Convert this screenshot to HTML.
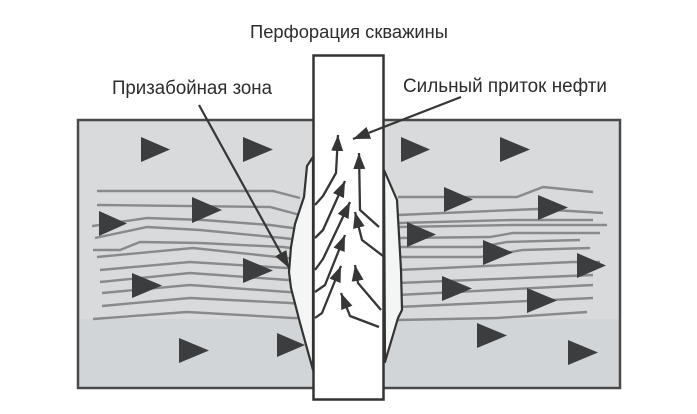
<!DOCTYPE html>
<html>
<head>
<meta charset="utf-8">
<style>
html,body{margin:0;padding:0;background:#fff;}
svg{display:block;}
text{font-family:"Liberation Sans","Noto Sans CJK SC",sans-serif;fill:#2c2c2c;}
</style>
</head>
<body>
<svg width="697" height="414" viewBox="0 0 697 414" xmlns="http://www.w3.org/2000/svg">
<defs>
<marker id="ah" viewBox="0 0 16 12" refX="16" refY="6" markerWidth="16" markerHeight="13" markerUnits="userSpaceOnUse" orient="auto">
<path d="M0,0 L16,6 L0,12 Z" fill="#363636"/>
</marker>
<marker id="ah2" viewBox="0 0 16 12" refX="16" refY="6" markerWidth="17" markerHeight="14" markerUnits="userSpaceOnUse" orient="auto">
<path d="M0,0 L16,6 L0,12 Z" fill="#363636"/>
</marker>
</defs>

<!-- labels -->
<text x="250" y="38" font-size="18" textLength="198" lengthAdjust="spacingAndGlyphs">Перфорация скважины</text>
<text x="112" y="94" font-size="19" textLength="160" lengthAdjust="spacingAndGlyphs">Призабойная зона</text>
<text x="403" y="92" font-size="19" textLength="204" lengthAdjust="spacingAndGlyphs">Сильный приток нефти</text>

<!-- formation box -->
<rect x="78" y="120" width="542" height="268" fill="#d8dadb"/>
<rect x="78" y="319" width="542" height="69" fill="#d1d5d7"/>

<!-- strata lines -->
<g fill="none" stroke="#888a8b" stroke-width="2.4">
<polyline points="97,191 273,191 300,198"/>
<polyline points="97,205 270,207 300,215"/>
<polyline points="92,226 147,218 203,220 270,225 300,229"/>
<polyline points="95,238 147,227 200,230 283,238 300,240"/>
<polyline points="93,250 120,250 140,242 200,243 283,247 300,249"/>
<polyline points="97,257 193,248 287,258 300,259"/>
<polyline points="100,270 190,262 287,268 300,269"/>
<polyline points="100,282 190,273 288,280 300,281"/>
<polyline points="102,293 190,285 288,292 300,293"/>
<polyline points="102,306 190,298 290,303 300,304"/>
<polyline points="93,319 187,312 293,318 300,318"/>

<polyline points="398,197 517,197 543,187 593,192"/>
<polyline points="398,215 537,209 603,213"/>
<polyline points="398,223 513,220 593,220"/>
<polyline points="398,227 513,225 607,225"/>
<polyline points="398,238 490,237 513,233 600,233"/>
<polyline points="398,247 480,247 507,242 580,240"/>
<polyline points="398,257 480,257 523,250 590,248"/>
<polyline points="398,270 573,262 600,262"/>
<polyline points="398,283 593,275"/>
<polyline points="398,295 593,285"/>
<polyline points="398,307 593,298"/>
<polyline points="398,320 497,318 587,312"/>
</g>

<!-- flow triangles -->
<g fill="#3b3d3e">
<path d="M141,137 L170,149.5 L141,162 Z"/>
<path d="M243,137 L273,149.5 L243,162 Z"/>
<path d="M192,197 L222,210 L192,223 Z"/>
<path d="M99,211 L127,223.5 L99,236 Z"/>
<path d="M243,258 L273,270.5 L243,283 Z"/>
<path d="M132,273 L162,285.5 L132,298 Z"/>
<path d="M179,338 L209,350.5 L179,363 Z"/>
<path d="M401,137 L430,149.5 L401,162 Z"/>
<path d="M500,137 L530,149.5 L500,162 Z"/>
<path d="M444,187 L473,199.5 L444,212 Z"/>
<path d="M538,195 L568,207.5 L538,220 Z"/>
<path d="M407,222 L436,234.5 L407,247 Z"/>
<path d="M483,240 L513,252.5 L483,265 Z"/>
<path d="M577,253 L606,265.5 L577,278 Z"/>
<path d="M442,276 L472,288.5 L442,301 Z"/>
<path d="M527,288 L557,300.5 L527,313 Z"/>
<path d="M477,323 L507,335.5 L477,348 Z"/>
<path d="M568,340 L598,352.5 L568,365 Z"/>
</g>

<!-- near-wellbore lens zones -->
<path d="M313,157 L307,166 L304,197 L295,224 L291,247 L289,272 L291,288 L300,323 L313,370 Z" fill="#f4f5f5" stroke="#333" stroke-width="2.2" stroke-linejoin="round"/>
<path d="M384,170 L397,200 L401,270 L402,310 L398,318 L385,362 Z" fill="#f4f5f5" stroke="#333" stroke-width="2.2" stroke-linejoin="round"/>
<path d="M277,333 L305,345 L277,357 Z" fill="#3b3d3e"/>

<!-- box border -->
<rect x="78" y="120" width="542" height="268" fill="none" stroke="#4a4a4a" stroke-width="2.5"/>

<!-- well pipe -->
<rect x="313.5" y="55.5" width="70" height="344" fill="#fff" stroke="#333" stroke-width="2.5"/>

<!-- inflow arrows -->
<g fill="none" stroke="#363636" stroke-width="2.3" stroke-linejoin="round" marker-end="url(#ah)">
<path d="M315,205 L323,196 L336,173 L338,135"/>
<path d="M379,227 L360,210 L359,153"/>
<path d="M315,238 L323,230 L345,181"/>
<path d="M315,270 L323,259 L350,202"/>
<path d="M383,256 L362,240 L355,212"/>
<path d="M315,292 L325,285 L345,235"/>
<path d="M315,318 L322,313 L341,266"/>
<path d="M381,310 L358,283 L355,265"/>
<path d="M379,327 L350,316 L341,293"/>
</g>

<!-- label pointers -->
<g fill="none" stroke="#363636" stroke-width="2.2" marker-end="url(#ah2)">
<path d="M199,105 L289,268"/>
<path d="M461,97 L353,139"/>
</g>
</svg>
</body>
</html>
